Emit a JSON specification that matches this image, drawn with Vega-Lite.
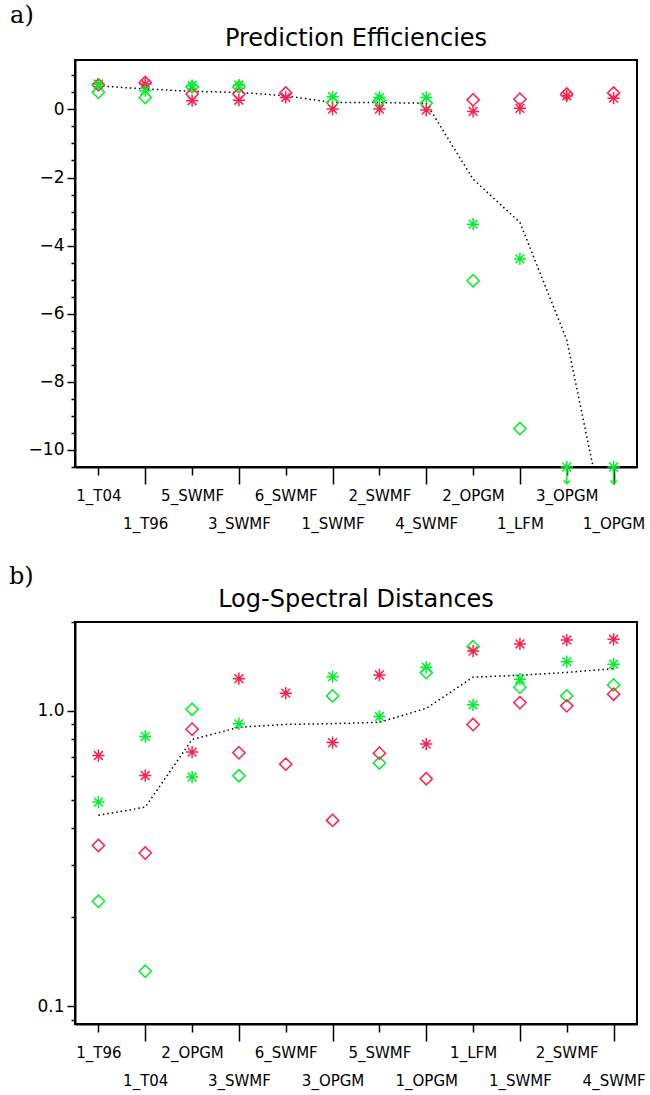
{
  "$schema": "https://vega.github.io/schema/vega-lite/v6.json",
  "background": "white",
  "padding": {"left": 8, "top": 4, "right": 2, "bottom": 5},
  "spacing": 33,
  "config": {
    "font": "DejaVu Sans",
    "view": {"stroke": "black", "strokeWidth": 2},
    "axis": {"grid": false, "domainColor": "black", "domainWidth": 2, "tickColor": "black", "tickWidth": 1.5, "labelColor": "black", "labelFontSize": 17, "labelFont": "DejaVu Sans", "labelFontWeight": "normal", "labelOverlap": false},
    "axisX": {"labelFontSize": 15},
    "title": {"fontSize": 24, "fontWeight": "normal", "font": "DejaVu Sans", "color": "black", "baseline": "alphabetic", "offset": 9}
  },
  "datasets": {
    "pe": [
      {"model": "1_T04", "c": "green", "m": "diamond", "value": 0.50},
      {"model": "1_T96", "c": "green", "m": "diamond", "value": 0.35},
      {"model": "5_SWMF", "c": "green", "m": "diamond", "value": 0.66},
      {"model": "3_SWMF", "c": "green", "m": "diamond", "value": 0.66},
      {"model": "1_SWMF", "c": "green", "m": "diamond", "value": 0.20},
      {"model": "2_SWMF", "c": "green", "m": "diamond", "value": 0.255},
      {"model": "4_SWMF", "c": "green", "m": "diamond", "value": 0.18},
      {"model": "2_OPGM", "c": "green", "m": "diamond", "value": -5.03},
      {"model": "1_LFM", "c": "green", "m": "diamond", "value": -9.37},
      {"model": "1_T04", "c": "red", "m": "diamond", "value": 0.72},
      {"model": "1_T96", "c": "red", "m": "diamond", "value": 0.79},
      {"model": "5_SWMF", "c": "red", "m": "diamond", "value": 0.45},
      {"model": "3_SWMF", "c": "red", "m": "diamond", "value": 0.45},
      {"model": "6_SWMF", "c": "red", "m": "diamond", "value": 0.48},
      {"model": "2_OPGM", "c": "red", "m": "diamond", "value": 0.28},
      {"model": "1_LFM", "c": "red", "m": "diamond", "value": 0.30},
      {"model": "3_OPGM", "c": "red", "m": "diamond", "value": 0.45},
      {"model": "1_OPGM", "c": "red", "m": "diamond", "value": 0.48},
      {"model": "1_T04", "c": "red", "m": "asterisk", "value": 0.74},
      {"model": "1_T96", "c": "red", "m": "asterisk", "value": 0.745},
      {"model": "5_SWMF", "c": "red", "m": "asterisk", "value": 0.255},
      {"model": "3_SWMF", "c": "red", "m": "asterisk", "value": 0.27},
      {"model": "6_SWMF", "c": "red", "m": "asterisk", "value": 0.35},
      {"model": "1_SWMF", "c": "red", "m": "asterisk", "value": 0.01},
      {"model": "2_SWMF", "c": "red", "m": "asterisk", "value": 0.01},
      {"model": "4_SWMF", "c": "red", "m": "asterisk", "value": -0.02},
      {"model": "2_OPGM", "c": "red", "m": "asterisk", "value": -0.06},
      {"model": "1_LFM", "c": "red", "m": "asterisk", "value": 0.03},
      {"model": "3_OPGM", "c": "red", "m": "asterisk", "value": 0.40},
      {"model": "1_OPGM", "c": "red", "m": "asterisk", "value": 0.33},
      {"model": "1_T04", "c": "green", "m": "asterisk", "value": 0.73},
      {"model": "1_T96", "c": "green", "m": "asterisk", "value": 0.55},
      {"model": "5_SWMF", "c": "green", "m": "asterisk", "value": 0.695},
      {"model": "3_SWMF", "c": "green", "m": "asterisk", "value": 0.715},
      {"model": "1_SWMF", "c": "green", "m": "asterisk", "value": 0.37},
      {"model": "2_SWMF", "c": "green", "m": "asterisk", "value": 0.35},
      {"model": "4_SWMF", "c": "green", "m": "asterisk", "value": 0.35},
      {"model": "2_OPGM", "c": "green", "m": "asterisk", "value": -3.37},
      {"model": "1_LFM", "c": "green", "m": "asterisk", "value": -4.39},
      {"model": "3_OPGM", "c": "green", "m": "asterisk", "value": -10.5},
      {"model": "1_OPGM", "c": "green", "m": "asterisk", "value": -10.5}
    ],
    "peOff": [
      {"model": "3_OPGM", "value": -10.5, "tip": -11.0, "head": -10.95},
      {"model": "1_OPGM", "value": -10.5, "tip": -11.0, "head": -10.95}
    ],
    "peLine": [
      {"model": "1_T04", "i": 0, "value": 0.69},
      {"model": "1_T96", "i": 1, "value": 0.60},
      {"model": "5_SWMF", "i": 2, "value": 0.53},
      {"model": "3_SWMF", "i": 3, "value": 0.50},
      {"model": "6_SWMF", "i": 4, "value": 0.40},
      {"model": "1_SWMF", "i": 5, "value": 0.20},
      {"model": "2_SWMF", "i": 6, "value": 0.20},
      {"model": "4_SWMF", "i": 7, "value": 0.18},
      {"model": "2_OPGM", "i": 8, "value": -2.05},
      {"model": "1_LFM", "i": 9, "value": -3.32},
      {"model": "3_OPGM", "i": 10, "value": -6.77},
      {"model": "1_OPGM", "i": 11, "value": -13.4}
    ],
    "lsd": [
      {"model": "1_T96", "c": "green", "m": "diamond", "value": 0.2265},
      {"model": "1_T04", "c": "green", "m": "diamond", "value": 0.1313},
      {"model": "2_OPGM", "c": "green", "m": "diamond", "value": 1.013},
      {"model": "3_SWMF", "c": "green", "m": "diamond", "value": 0.603},
      {"model": "3_OPGM", "c": "green", "m": "diamond", "value": 1.124},
      {"model": "5_SWMF", "c": "green", "m": "diamond", "value": 0.666},
      {"model": "1_OPGM", "c": "green", "m": "diamond", "value": 1.348},
      {"model": "1_LFM", "c": "green", "m": "diamond", "value": 1.65},
      {"model": "1_SWMF", "c": "green", "m": "diamond", "value": 1.203},
      {"model": "2_SWMF", "c": "green", "m": "diamond", "value": 1.124},
      {"model": "4_SWMF", "c": "green", "m": "diamond", "value": 1.224},
      {"model": "1_T96", "c": "red", "m": "diamond", "value": 0.350},
      {"model": "1_T04", "c": "red", "m": "diamond", "value": 0.330},
      {"model": "2_OPGM", "c": "red", "m": "diamond", "value": 0.867},
      {"model": "3_SWMF", "c": "red", "m": "diamond", "value": 0.721},
      {"model": "6_SWMF", "c": "red", "m": "diamond", "value": 0.660},
      {"model": "3_OPGM", "c": "red", "m": "diamond", "value": 0.4257},
      {"model": "5_SWMF", "c": "red", "m": "diamond", "value": 0.719},
      {"model": "1_OPGM", "c": "red", "m": "diamond", "value": 0.589},
      {"model": "1_LFM", "c": "red", "m": "diamond", "value": 0.899},
      {"model": "1_SWMF", "c": "red", "m": "diamond", "value": 1.067},
      {"model": "2_SWMF", "c": "red", "m": "diamond", "value": 1.04},
      {"model": "4_SWMF", "c": "red", "m": "diamond", "value": 1.139},
      {"model": "1_T96", "c": "red", "m": "asterisk", "value": 0.706},
      {"model": "1_T04", "c": "red", "m": "asterisk", "value": 0.604},
      {"model": "2_OPGM", "c": "red", "m": "asterisk", "value": 0.725},
      {"model": "3_SWMF", "c": "red", "m": "asterisk", "value": 1.286},
      {"model": "6_SWMF", "c": "red", "m": "asterisk", "value": 1.148},
      {"model": "3_OPGM", "c": "red", "m": "asterisk", "value": 0.781},
      {"model": "5_SWMF", "c": "red", "m": "asterisk", "value": 1.323},
      {"model": "1_OPGM", "c": "red", "m": "asterisk", "value": 0.772},
      {"model": "1_LFM", "c": "red", "m": "asterisk", "value": 1.595},
      {"model": "1_SWMF", "c": "red", "m": "asterisk", "value": 1.685},
      {"model": "2_SWMF", "c": "red", "m": "asterisk", "value": 1.738},
      {"model": "4_SWMF", "c": "red", "m": "asterisk", "value": 1.748},
      {"model": "1_T96", "c": "green", "m": "asterisk", "value": 0.491},
      {"model": "1_T04", "c": "green", "m": "asterisk", "value": 0.819},
      {"model": "2_OPGM", "c": "green", "m": "asterisk", "value": 0.597},
      {"model": "3_SWMF", "c": "green", "m": "asterisk", "value": 0.904},
      {"model": "3_OPGM", "c": "green", "m": "asterisk", "value": 1.306},
      {"model": "5_SWMF", "c": "green", "m": "asterisk", "value": 0.957},
      {"model": "1_OPGM", "c": "green", "m": "asterisk", "value": 1.405},
      {"model": "1_LFM", "c": "green", "m": "asterisk", "value": 1.048},
      {"model": "1_SWMF", "c": "green", "m": "asterisk", "value": 1.28},
      {"model": "2_SWMF", "c": "green", "m": "asterisk", "value": 1.468},
      {"model": "4_SWMF", "c": "green", "m": "asterisk", "value": 1.439}
    ],
    "lsdLine": [
      {"model": "1_T96", "i": 0, "value": 0.443},
      {"model": "1_T04", "i": 1, "value": 0.472},
      {"model": "2_OPGM", "i": 2, "value": 0.80},
      {"model": "3_SWMF", "i": 3, "value": 0.88},
      {"model": "6_SWMF", "i": 4, "value": 0.90},
      {"model": "3_OPGM", "i": 5, "value": 0.905},
      {"model": "5_SWMF", "i": 6, "value": 0.915},
      {"model": "1_OPGM", "i": 7, "value": 1.02},
      {"model": "1_LFM", "i": 8, "value": 1.30},
      {"model": "1_SWMF", "i": 9, "value": 1.32},
      {"model": "2_SWMF", "i": 10, "value": 1.35},
      {"model": "4_SWMF", "i": 11, "value": 1.39}
    ]
  },
  "vconcat": [
    {
      "title": {"text": "a)", "font": "DejaVu Serif", "anchor": "start", "frame": "bounds", "dx": -17, "offset": -2},
      "vconcat": [
        {
          "width": 562,
          "height": 407,
          "title": {"text": "Prediction Efficiencies"},
          "encoding": {
            "x": {"field": "model", "type": "nominal", "sort": ["1_T04","1_T96","5_SWMF","3_SWMF","6_SWMF","1_SWMF","2_SWMF","4_SWMF","2_OPGM","1_LFM","3_OPGM","1_OPGM"], "scale": {"type": "point", "padding": 0.5},
              "axis": {"title": null, "labelAngle": 0, "labelBaseline": "top", "labelFlush": false,
                "tickSize": {"condition": {"test": "indexof(['1_T96','3_SWMF','1_SWMF','4_SWMF','1_LFM','1_OPGM'], datum.value) >= 0", "value": 17}, "value": 8},
                "labelPadding": {"condition": {"test": "indexof(['1_T96','3_SWMF','1_SWMF','4_SWMF','1_LFM','1_OPGM'], datum.value) >= 0", "value": 32}, "value": 13}}}
          },
          "resolve": {"axis": {"y": "independent"}},
          "layer": [
            {
              "data": {"name": "peLine"},
              "mark": {"type": "line", "color": "black", "strokeDash": [1.5, 3], "strokeWidth": 1.5, "clip": true},
              "encoding": {
                "y": {"field": "value", "type": "quantitative", "scale": {"domain": [-10.5, 1.45], "nice": false, "zero": false},
                  "axis": {"title": null, "orient": "left", "values": [-10, -8, -6, -4, -2, 0], "format": "d", "tickSize": 8, "labelPadding": 3}},
                "order": {"field": "i", "type": "quantitative"}
              }
            },
            {
              "data": {"name": "peOff"},
              "mark": {"type": "rule", "color": "#00f02c", "strokeWidth": 1.5},
              "encoding": {
                "y": {"field": "value", "type": "quantitative",
                  "axis": {"title": null, "orient": "left", "labels": false, "domain": false, "tickSize": 4,
                    "values": [-10.5,-9.5,-9,-8.5,-7.5,-7,-6.5,-5.5,-5,-4.5,-3.5,-3,-2.5,-1.5,-1,-0.5,0.5,1]}},
                "y2": {"field": "tip"}
              }
            },
            {
              "data": {"name": "peOff"},
              "mark": {"type": "point", "shape": "M-1,-0.6L0,0.4L1,-0.6", "filled": false, "color": "#00f02c", "strokeWidth": 1.5, "size": 40, "opacity": 1},
              "encoding": {
                "y": {"field": "head", "type": "quantitative", "axis": null}
              }
            },
            {
              "data": {"name": "pe"},
              "mark": {"type": "point", "filled": false, "strokeWidth": 1.5, "size": 150, "opacity": 1},
              "encoding": {
                "y": {"field": "value", "type": "quantitative", "axis": null},
                "color": {"field": "c", "type": "nominal", "scale": {"domain": ["red", "green"], "range": ["#ff1f4f", "#00f02c"]}, "legend": null},
                "shape": {"field": "m", "type": "nominal", "scale": {"domain": ["asterisk", "diamond"], "range": ["M0,-1L0,1M-1,0L1,0M-0.72,-0.72L0.72,0.72M-0.72,0.72L0.72,-0.72", "diamond"]}, "legend": null}
              }
            }
          ]
        }
      ]
    },
    {
      "title": {"text": "b)", "font": "DejaVu Serif", "anchor": "start", "frame": "bounds", "dx": -27, "offset": -2},
      "vconcat": [
        {
          "width": 562,
          "height": 402,
          "title": {"text": "Log-Spectral Distances"},
          "encoding": {
            "x": {"field": "model", "type": "nominal", "sort": ["1_T96","1_T04","2_OPGM","3_SWMF","6_SWMF","3_OPGM","5_SWMF","1_OPGM","1_LFM","1_SWMF","2_SWMF","4_SWMF"], "scale": {"type": "point", "padding": 0.5},
              "axis": {"title": null, "labelAngle": 0, "labelBaseline": "top", "labelFlush": false,
                "tickSize": {"condition": {"test": "indexof(['1_T04','3_SWMF','3_OPGM','1_OPGM','1_SWMF','4_SWMF'], datum.value) >= 0", "value": 17}, "value": 8},
                "labelPadding": {"condition": {"test": "indexof(['1_T04','3_SWMF','3_OPGM','1_OPGM','1_SWMF','4_SWMF'], datum.value) >= 0", "value": 32}, "value": 13}}}
          },
          "resolve": {"axis": {"y": "independent"}},
          "layer": [
            {
              "data": {"name": "lsdLine"},
              "mark": {"type": "line", "color": "black", "strokeDash": [1.5, 3], "strokeWidth": 1.5, "clip": true},
              "encoding": {
                "y": {"field": "value", "type": "quantitative", "scale": {"type": "log", "domain": [0.087, 2.0], "nice": false},
                  "axis": {"title": null, "orient": "left", "values": [0.1, 1], "format": ".1f", "tickSize": 8, "labelPadding": 3}},
                "order": {"field": "i", "type": "quantitative"}
              }
            },
            {
              "data": {"name": "lsd"},
              "mark": {"type": "point", "filled": false, "strokeWidth": 1.5, "size": 150, "opacity": 1},
              "encoding": {
                "y": {"field": "value", "type": "quantitative",
                  "axis": {"title": null, "orient": "left", "labels": false, "domain": false, "tickSize": 4,
                    "values": [0.09, 0.2, 0.3, 0.4, 0.5, 0.6, 0.7, 0.8, 0.9, 2]}},
                "color": {"field": "c", "type": "nominal", "scale": {"domain": ["red", "green"], "range": ["#ff1f4f", "#00f02c"]}, "legend": null},
                "shape": {"field": "m", "type": "nominal", "scale": {"domain": ["asterisk", "diamond"], "range": ["M0,-1L0,1M-1,0L1,0M-0.72,-0.72L0.72,0.72M-0.72,0.72L0.72,-0.72", "diamond"]}, "legend": null}
              }
            }
          ]
        }
      ]
    }
  ]
}
